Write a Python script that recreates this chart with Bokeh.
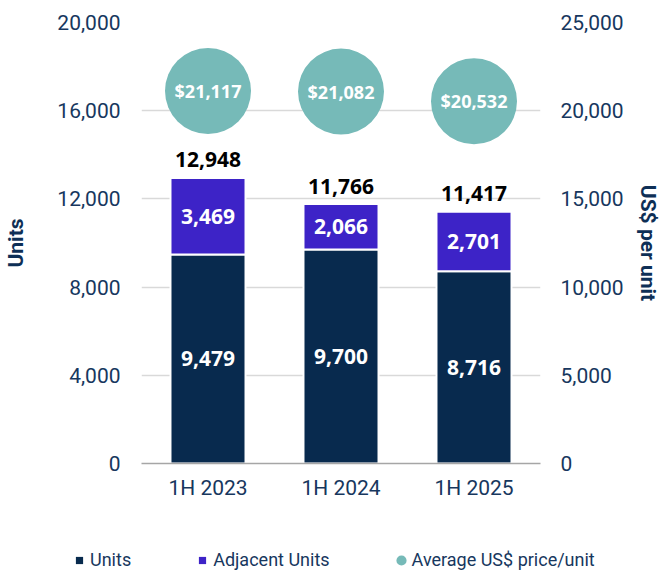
from bokeh.plotting import figure
from bokeh.layouts import column
from bokeh.models import (ColumnDataSource, Range1d, FactorRange, LinearAxis, FixedTicker,
                          NumeralTickFormatter, Legend, LegendItem)
from bokeh.core.properties import value
from bokeh.embed import file_html
from bokeh.resources import INLINE

# ---- data ----
periods = ["1H 2023", "1H 2024", "1H 2025"]
units = [9479, 9700, 8716]
adjacent_units = [3469, 2066, 2701]
total_units = [12948, 11766, 11417]
avg_price = [21117, 21082, 20532]
left_ticks = [0, 4000, 8000, 12000, 16000, 20000]
right_ticks = [0, 5000, 10000, 15000, 20000, 25000]
legend_labels = ["Units", "Adjacent Units", "Average US$ price/unit"]

NAVY = "#082A4E"
PURPLE = "#3D23C7"
TEAL = "#76BAB8"
TXT = "#17375E"
TITLE = "#0E2F56"

src = ColumnDataSource(dict(
    x=periods,
    units=units,
    adj=adjacent_units,
    total=total_units,
    price=avg_price,
    units_mid=[u / 2 for u in units],
    adj_mid=[u + a / 2 for u, a in zip(units, adjacent_units)],
    units_lbl=[f"{v:,}" for v in units],
    adj_lbl=[f"{v:,}" for v in adjacent_units],
    total_lbl=[f"{v:,}" for v in total_units],
    price_lbl=[f"${v:,}" for v in avg_price],
))

p = figure(width=662, height=540, x_range=FactorRange(*periods, range_padding=0),
           y_range=Range1d(0, 20000), output_backend="svg", toolbar_location=None,
           min_border_left=141, min_border_right=122, min_border_top=22, min_border_bottom=77)
p.frame_align = False
p.extra_y_ranges = {"price": Range1d(0, 25000)}
p.outline_line_color = None
p.background_fill_color = "white"

# bars
p.vbar(x="x", bottom=0, top="units", width=0.564, source=src, fill_color=NAVY,
       line_color="white", line_width=2)
p.vbar(x="x", bottom="units", top="total", width=0.564, source=src, fill_color=PURPLE,
       line_color="white", line_width=2)

# price circles
p.scatter(x="x", y="price", y_range_name="price", source=src, marker="circle", size=86,
          fill_color=TEAL, line_color=None)

# labels
bold = value("Open Sans")
p.text(x="x", y="units_mid", text="units_lbl", source=src, text_color="white",
       text_font=bold, text_font_style="bold", text_font_size="21px",
       text_align="center", text_baseline="middle")
p.text(x="x", y="adj_mid", text="adj_lbl", source=src, text_color="white",
       text_font=bold, text_font_style="bold", text_font_size="21px",
       text_align="center", text_baseline="middle")
p.text(x="x", y="total", text="total_lbl", source=src, text_color="black",
       text_font=bold, text_font_style="bold", text_font_size="21px",
       text_align="center", text_baseline="alphabetic", y_offset=-18)
p.text(x="x", y="price", text="price_lbl", y_range_name="price", source=src, text_color="white",
       text_font=bold, text_font_style="bold", text_font_size="18px",
       text_align="center", text_baseline="middle")

# axes
yax = p.yaxis[0]
yax.ticker = FixedTicker(ticks=left_ticks)
yax.formatter = NumeralTickFormatter(format="0,0")
yax.axis_line_color = None
yax.major_tick_line_color = None
yax.minor_tick_line_color = None
yax.major_tick_out = 0
yax.major_tick_in = 0
yax.minor_tick_out = 0
yax.major_label_text_font = "Roboto"
yax.major_label_text_font_size = "21px"
yax.major_label_text_color = TXT
yax.major_label_standoff = 21
yax.axis_label = "Units"
yax.axis_label_text_font = "Roboto"
yax.axis_label_text_font_style = "bold"
yax.axis_label_text_font_size = "21px"
yax.axis_label_text_color = TITLE
yax.axis_label_standoff = 26

p.ygrid.ticker = yax.ticker
p.ygrid.grid_line_color = "#D9D9D9"
p.ygrid.grid_line_width = 1.5
p.xgrid.grid_line_color = None

rax = LinearAxis(y_range_name="price", ticker=FixedTicker(ticks=right_ticks),
                 formatter=NumeralTickFormatter(format="0,0"))
rax.axis_line_color = None
rax.major_tick_line_color = None
rax.minor_tick_line_color = None
rax.major_tick_out = 0
rax.major_tick_in = 0
rax.minor_tick_out = 0
rax.major_label_text_font = "Roboto"
rax.major_label_text_font_size = "21px"
rax.major_label_text_color = TXT
rax.major_label_standoff = 20
rax.axis_label = "US$ per unit"
rax.axis_label_text_font = "Roboto"
rax.axis_label_text_font_style = "bold"
rax.axis_label_text_font_size = "21px"
rax.axis_label_text_color = TITLE
rax.axis_label_standoff = 9
p.add_layout(rax, "right")

xax = p.xaxis[0]
xax.axis_line_color = "#A6A6A6"
xax.axis_line_width = 1.5
xax.major_tick_line_color = None
xax.minor_tick_line_color = None
xax.major_tick_out = 0
xax.major_tick_in = 0
xax.minor_tick_out = 0
xax.major_label_text_font = "Roboto"
xax.major_label_text_font_size = "21px"
xax.major_label_text_color = TXT
xax.major_label_standoff = 12

# legend strip (separate small figure below the chart, frame not aligned)
lf = figure(width=662, height=32, x_range=Range1d(0, 1), y_range=Range1d(0, 1),
            x_axis_type=None, y_axis_type=None, output_backend="svg", toolbar_location=None,
            min_border=0)
lf.frame_align = False
lf.outline_line_color = None
lf.xgrid.grid_line_color = None
lf.ygrid.grid_line_color = None
nan = float("nan")
r_u = lf.scatter(x=[nan], y=[nan], marker="square", fill_color=NAVY, line_color=None)
r_a = lf.scatter(x=[nan], y=[nan], marker="square", fill_color=PURPLE, line_color=None)
r_p = lf.scatter(x=[nan], y=[nan], marker="circle", fill_color=TEAL, line_color=TEAL,
                 line_width=3)
legend = Legend(items=[LegendItem(label=legend_labels[0], renderers=[r_u]),
                       LegendItem(label=legend_labels[1], renderers=[r_a]),
                       LegendItem(label=legend_labels[2], renderers=[r_p])],
                orientation="horizontal", location=(70, 2), spacing=62,
                glyph_width=18, glyph_height=18, label_standoff=2,
                padding=0, margin=0, border_line_color=None, background_fill_alpha=0,
                label_text_font="Roboto", label_text_font_size="18px", label_text_color=TXT)
lf.add_layout(legend, "center")

open("out.html", "w").write(file_html(column(p, lf, spacing=0), INLINE))
